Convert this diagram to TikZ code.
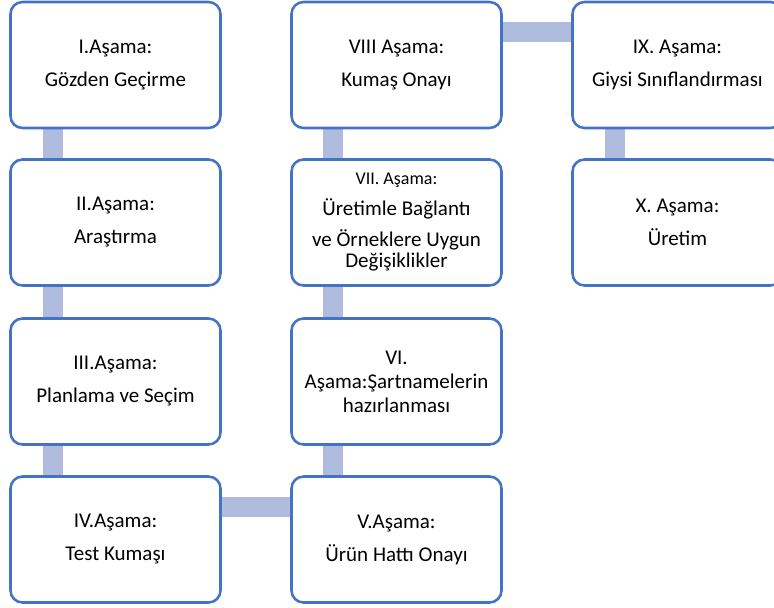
\documentclass[tikz,border=0pt]{standalone}
\usepackage{fontspec}
\setmainfont{Carlito}
\usetikzlibrary{backgrounds}
\definecolor{boxline}{RGB}{68,114,196}
\definecolor{barfill}{RGB}{175,188,222}
\tikzset{
  stagebox/.style={draw=boxline, line width=1.9pt, fill=white, rounded corners=9pt,
    minimum width=157.5pt, minimum height=94.5pt, inner sep=0pt, align=center,
    text=black, font=\fontsize{15.75}{24.75}\selectfont},
  linkbar/.style={draw=barfill, line width=15pt}
}
\begin{document}
\begin{tikzpicture}[x=0.75pt,y=-0.75pt]
\useasboundingbox (0,0) rectangle (774,607);
\clip (0,0) rectangle (774,607);
% column 1
\node[stagebox] (s1) at (115.5,65) {I.Aşama:\\Gözden Geçirme};
\node[stagebox] (s2) at (115.5,222.5) {II.Aşama:\\Araştırma};
\node[stagebox] (s3) at (115.5,381.5) {III.Aşama:\\Planlama ve Seçim};
\node[stagebox] (s4) at (115.5,539.5) {IV.Aşama:\\Test Kumaşı};
% column 2
\node[stagebox] (s5) at (396.5,539.5) {V.Aşama:\\Ürün Hattı Onayı};
\node[stagebox, font=\fontsize{15.75}{18}\selectfont] (s6) at (396.5,381.5) {VI.\\Aşama:Şartnamelerin\\hazırlanması};
\node[stagebox, font=\fontsize{15.75}{15.75}\selectfont] (s7) at (396.5,222.5)
  {{\fontsize{13.5}{15.75}\selectfont VII. Aşama:}\\[7.5pt]Üretimle Bağlantı\\[7.5pt]ve Örneklere Uygun\\Değişiklikler};
\node[stagebox] (s8) at (396.5,65) {VIII Aşama:\\Kumaş Onayı};
% column 3
\node[stagebox] (s9) at (677.5,65) {IX. Aşama:\\Giysi Sınıflandırması};
\node[stagebox] (s10) at (677.5,222.5) {X. Aşama:\\Üretim};
\begin{scope}[on background layer]
  \fill[white] (0,0) rectangle (774,607);
  \draw[linkbar] ([xshift=33pt]s1.south west) -- ([xshift=33pt]s2.north west);
  \draw[linkbar] ([xshift=33pt]s2.south west) -- ([xshift=33pt]s3.north west);
  \draw[linkbar] ([xshift=33pt]s3.south west) -- ([xshift=33pt]s4.north west);
  \draw[linkbar] ([yshift=-23.5pt]s4.north east) -- ([yshift=-23.5pt]s5.north west);
  \draw[linkbar] ([xshift=32pt]s5.north west) -- ([xshift=32pt]s6.south west);
  \draw[linkbar] ([xshift=32pt]s6.north west) -- ([xshift=32pt]s7.south west);
  \draw[linkbar] ([xshift=32pt]s7.north west) -- ([xshift=32pt]s8.south west);
  \draw[linkbar] ([yshift=-23.5pt]s8.north east) -- ([yshift=-23.5pt]s9.north west);
  \draw[linkbar] ([xshift=33pt]s9.south west) -- ([xshift=33pt]s10.north west);
\end{scope}
\end{tikzpicture}
\end{document}
